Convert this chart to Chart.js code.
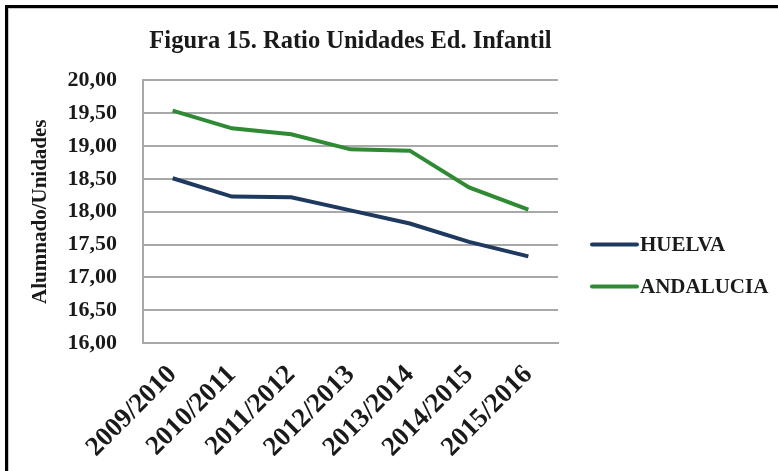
<!DOCTYPE html>
<html>
<head>
<meta charset="utf-8">
<script src="https://cdn.jsdelivr.net/npm/chart.js@4.4.0/dist/chart.umd.min.js"></script>
<style>
    html, body {
        margin: 0;
        padding: 0;
        background: #fff;
    }
    #box {
        position: relative;
        width: 778px;
        height: 471px;
        overflow: hidden;
    }
    #frame {
        position: absolute;
        left: 5px;
        top: 5px;
        right: -10px;
        bottom: -10px;
        border-top: 3px solid #000;
        border-left: 3px solid #000;
        box-shadow: inset 1px 1px 0 #c8c8c8;
        pointer-events: none;
    }
    canvas {
        position: absolute;
        left: 0;
        top: 0;
    }
</style>
</head>
<body>
<div id="box">
    <canvas id="chart" width="778" height="471"></canvas>
    <div id="frame"></div>
</div>
<script>
const years = ['2009/2010', '2010/2011', '2011/2012', '2012/2013', '2013/2014', '2014/2015', '2015/2016'];
const huelva = [18.51, 18.23, 18.22, 18.02, 17.82, 17.54, 17.32];
const andalucia = [19.54, 19.27, 19.18, 18.95, 18.93, 18.37, 18.03];
const seriesNames = ['HUELVA', 'ANDALUCIA'];
const seriesColors = ['#1F3A5F', '#2E8B34'];

const yMin = 16;
const yMax = 20;
const yStep = 0.5;

const FONT = '"Liberation Serif", "Times New Roman", serif';
const TEXT = '#1a1a1a';
const GRID = '#a8a8a8';

// legend drawn next to the plot: line + name
const sideLegend = {
    id: 'sideLegend',
    afterDraw(chart) {
        const ctx = chart.ctx;
        const area = chart.chartArea;
        ctx.save();
        ctx.font = 'bold 21px ' + FONT;
        ctx.textBaseline = 'middle';
        ctx.textAlign = 'left';
        chart.data.datasets.forEach(function (ds, i) {
            const x = area.right + 34;
            const y = area.top + 164 + i * 42;
            ctx.strokeStyle = ds.borderColor;
            ctx.lineWidth = 4;
            ctx.lineCap = 'round';
            ctx.beginPath();
            ctx.moveTo(x, y);
            ctx.lineTo(x + 45, y);
            ctx.stroke();
            ctx.fillStyle = TEXT;
            ctx.fillText(ds.label, x + 48, y + 1);
        });
        ctx.restore();
    }
};

function makeDataset(name, values, color) {
    return {
        label: name,
        data: values,
        borderColor: color,
        backgroundColor: color,
        borderWidth: 4,
        pointRadius: 0,
        tension: 0,
        fill: false
    };
}

new Chart(document.getElementById('chart'), {
    type: 'line',
    data: {
        labels: years,
        datasets: [
            makeDataset(seriesNames[0], huelva, seriesColors[0]),
            makeDataset(seriesNames[1], andalucia, seriesColors[1])
        ]
    },
    options: {
        responsive: false,
        animation: false,
        maintainAspectRatio: false,
        layout: {
            padding: {top: 10, left: 8, right: 220, bottom: 4}
        },
        scales: {
            x: {
                offset: true,
                grid: {display: false, drawTicks: false},
                border: {display: true, color: GRID, width: 2},
                ticks: {
                    autoSkip: false,
                    minRotation: 45,
                    maxRotation: 45,
                    padding: 16,
                    color: TEXT,
                    font: {family: FONT, size: 27, weight: 'bold'}
                },
                // fixed band under the plot, labels may spill left into the y axis
                afterFit: function (scale) {
                    scale.height = 124;
                    scale.paddingLeft = 0;
                    scale.paddingRight = 0;
                }
            },
            y: {
                min: yMin,
                max: yMax,
                grid: {color: GRID, lineWidth: 2, drawTicks: false},
                border: {display: true, color: GRID, width: 2},
                ticks: {
                    stepSize: yStep,
                    padding: 26,
                    color: TEXT,
                    font: {family: FONT, size: 22, weight: 'bold'},
                    callback: function (v) {
                        return v.toFixed(2).replace('.', ',');
                    }
                },
                title: {
                    display: true,
                    text: 'Alumnado/Unidades',
                    color: TEXT,
                    font: {family: FONT, size: 21, weight: 'bold'},
                    padding: {top: 20, bottom: 15}
                },
                afterFit: function (scale) {
                    scale.width = 135;
                }
            }
        },
        plugins: {
            legend: {display: false},
            tooltip: {enabled: false},
            title: {
                display: true,
                fullSize: false,
                text: 'Figura 15. Ratio Unidades Ed. Infantil',
                color: TEXT,
                font: {family: FONT, size: 24.5, weight: 'bold'},
                padding: {top: 17, bottom: 24}
            }
        }
    },
    plugins: [sideLegend]
});
</script>
</body>
</html>
